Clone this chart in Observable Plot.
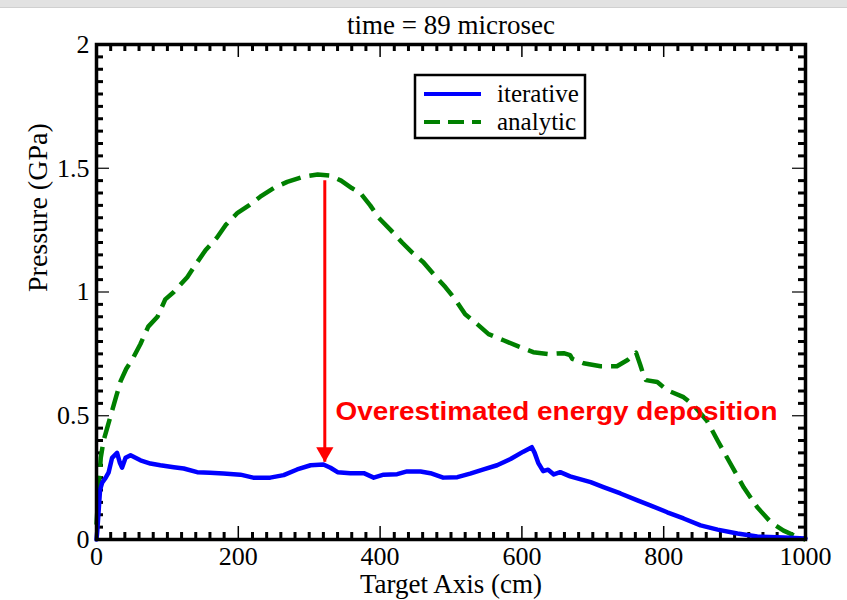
<!DOCTYPE html>
<html>
<head>
<meta charset="utf-8">
<script src="https://cdn.jsdelivr.net/npm/d3@7"></script>
<script src="https://cdn.jsdelivr.net/npm/@observablehq/plot@0.6"></script>
<style>
  body { margin: 0; background: #fff; }
  #wrap { position: relative; width: 847px; height: 600px; overflow: hidden; }
  #topbar { position: absolute; left: 0; top: 0; width: 847px; height: 7px; background: #e2e2e2; border-bottom: 1px solid #d0d0d0; }
  #chart { position: absolute; left: 0; top: 0; }
  #legend { position: absolute; left: 0; top: 0; }
</style>
</head>
<body>
<div id="wrap">
  <div id="topbar"></div>
  <div id="chart"></div>
  <svg id="legend" width="847" height="600" style="pointer-events:none"></svg>
</div>
<script>
// ---- data ----
const title = "time = 89 microsec";
const xLabel = "Target Axis (cm)";
const yLabel = "Pressure (GPa)";
const xTicks = [0, 200, 400, 600, 800, 1000];
const yTicks = [0, 0.5, 1, 1.5, 2];

const iterX = [0, 1, 5, 8, 13, 17, 22, 29, 33, 36, 41, 48, 55, 62, 76, 90, 109, 123, 142, 160, 179, 203, 221, 245, 264, 283, 302, 320, 330, 340, 358, 377, 391, 405, 424, 438, 457, 471, 489, 509, 527, 546, 565, 584, 602, 614, 618, 623, 630, 637, 645, 654, 668, 697, 715, 739, 763, 781, 805, 828, 852, 876, 904, 932, 969, 1000];
const iterY = [0, 0.03, 0.2, 0.23, 0.25, 0.27, 0.33, 0.35, 0.31, 0.29, 0.33, 0.34, 0.33, 0.32, 0.307, 0.30, 0.292, 0.287, 0.272, 0.27, 0.267, 0.262, 0.25, 0.25, 0.26, 0.283, 0.30, 0.303, 0.29, 0.272, 0.268, 0.268, 0.25, 0.262, 0.264, 0.275, 0.275, 0.268, 0.25, 0.252, 0.266, 0.283, 0.30, 0.325, 0.355, 0.373, 0.35, 0.31, 0.276, 0.282, 0.263, 0.272, 0.255, 0.232, 0.212, 0.186, 0.158, 0.138, 0.11, 0.085, 0.057, 0.04, 0.024, 0.012, 0.008, 0.004];

const anaX = [0, 3, 6, 10, 15, 22, 28, 34, 42, 51, 62, 73, 86, 97, 109, 128, 142, 154, 170, 182, 199, 215, 231, 250, 269, 292, 312, 330, 345, 360, 372, 386, 398, 415, 431, 445, 461, 476, 492, 506, 520, 537, 553, 574, 595, 616, 638, 659, 668, 671, 687, 711, 734, 749, 761, 767, 772, 775, 791, 805, 828, 842, 861, 876, 894, 913, 932, 951, 969, 989, 1000];
const anaY = [0.06, 0.2, 0.33, 0.4, 0.45, 0.52, 0.58, 0.64, 0.69, 0.73, 0.79, 0.86, 0.9, 0.97, 1.0, 1.06, 1.12, 1.17, 1.22, 1.27, 1.32, 1.35, 1.385, 1.42, 1.445, 1.466, 1.475, 1.47, 1.45, 1.42, 1.40, 1.35, 1.30, 1.25, 1.2, 1.16, 1.12, 1.07, 1.02, 0.97, 0.91, 0.87, 0.83, 0.805, 0.78, 0.757, 0.749, 0.753, 0.745, 0.73, 0.712, 0.70, 0.70, 0.725, 0.755, 0.705, 0.66, 0.644, 0.636, 0.603, 0.575, 0.543, 0.48, 0.40, 0.307, 0.21, 0.13, 0.07, 0.036, 0.01, 0.0];

const seriesNames = ["iterative", "analytic"];
const seriesColors = ["#0000ff", "#008000"];

const annotText = "Overestimated energy deposition";
const arrowX = 322, arrowTop = 1.45, arrowTip = 0.312;
const annotX = 337, annotY = 0.514;

// ---- build ----
const iterative = iterX.map((x, i) => ({x, y: iterY[i]}));
const analytic = anaX.map((x, i) => ({x, y: anaY[i]}));

const W = 847, H = 600, mL = 96, mR = 42, mT = 44, mB = 61;
const iW = W - mL - mR, iH = H - mT - mB;
const xMinor = d3.range(0, 1001, 20).filter(v => v % 200 !== 0);
const yMinor = d3.range(0, 41).map(i => i * 0.05).filter((v, i) => i % 10 !== 0);
const majLen = 13, minLen = 7;
const serif = "Liberation Serif";

const plot = Plot.plot({
  width: W, height: H,
  marginLeft: mL, marginRight: mR, marginTop: mT, marginBottom: mB,
  style: {fontFamily: serif, fontSize: "26px", background: "transparent", color: "#000", overflow: "visible"},
  x: {domain: [0, 1000]},
  y: {domain: [0, 2]},
  marks: [
    Plot.axisX({ticks: xTicks, tickSize: 0, tickPadding: 7, label: null, tickFormat: d => String(d), fontSize: 26}),
    Plot.axisY({ticks: yTicks, tickSize: 0, tickPadding: 7, label: null, tickFormat: d => String(d), fontSize: 26}),
    // minor ticks
    Plot.tickX(xMinor, {x: d => d, insetTop: iH - minLen, strokeWidth: 3, stroke: "#000"}),
    Plot.tickX(xMinor, {x: d => d, insetBottom: iH - minLen, strokeWidth: 3, stroke: "#000"}),
    Plot.tickY(yMinor, {y: d => d, insetRight: iW - minLen, strokeWidth: 3, stroke: "#000"}),
    Plot.tickY(yMinor, {y: d => d, insetLeft: iW - minLen, strokeWidth: 3, stroke: "#000"}),
    // major ticks
    Plot.tickX(xTicks, {x: d => d, insetTop: iH - majLen, strokeWidth: 1.5, stroke: "#000"}),
    Plot.tickX(xTicks, {x: d => d, insetBottom: iH - majLen, strokeWidth: 1.5, stroke: "#000"}),
    Plot.tickY(yTicks, {y: d => d, insetRight: iW - majLen, strokeWidth: 1.2, stroke: "#000"}),
    Plot.tickY(yTicks, {y: d => d, insetLeft: iW - majLen, strokeWidth: 1.2, stroke: "#000"}),
    // data
    Plot.line(analytic, {x: "x", y: "y", stroke: seriesColors[1], strokeWidth: 4.5, strokeDasharray: "20,9", strokeLinecap: "butt"}),
    Plot.line(iterative, {x: "x", y: "y", stroke: seriesColors[0], strokeWidth: 4.5}),
    // annotation
    Plot.ruleX([arrowX], {x: d => d, y1: arrowTop, y2: arrowTip, stroke: "#ff0000", strokeWidth: 3}),
    Plot.dot([arrowX], {x: d => d, y: arrowTip, dy: -10, symbol: "triangle", r: 6.4, rotate: 180, fill: "#ff0000", stroke: "none"}),
    Plot.text([annotText], {x: annotX, y: annotY, text: d => d, textAnchor: "start", fill: "#ff0000", fontFamily: "Liberation Sans", fontWeight: "bold", fontSize: 25}),
    // frame
    Plot.frame({stroke: "#000", strokeWidth: 3.5}),
    // titles
    Plot.text([title], {text: d => d, frameAnchor: "top", dy: -30, fontSize: 27}),
    Plot.text([xLabel], {text: d => d, frameAnchor: "bottom", dy: 53, fontSize: 27}),
    Plot.text([yLabel], {text: d => d, frameAnchor: "left", dx: -58, rotate: -90, fontSize: 28})
  ]
});
document.getElementById("chart").appendChild(plot);

// stretch the annotation horizontally to match the reference width
d3.select(plot).selectAll("text")
  .filter(function () { return this.textContent === annotText; })
  .attr("textLength", 442).attr("lengthAdjust", "spacingAndGlyphs");

// legend
const lg = d3.select("#legend");
const lx = 415, ly = 75, lw = 170, lh = 63;
lg.append("rect").attr("x", lx).attr("y", ly).attr("width", lw).attr("height", lh)
  .attr("fill", "#fff").attr("stroke", "#000").attr("stroke-width", 2.5);
seriesNames.forEach((name, i) => {
  const yy = ly + 19 + i * 28;
  lg.append("line").attr("x1", lx + 9).attr("x2", lx + 66).attr("y1", yy).attr("y2", yy)
    .attr("stroke", seriesColors[i]).attr("stroke-width", 4)
    .attr("stroke-dasharray", i === 1 ? "16,8" : null);
  lg.append("text").attr("x", lx + 82).attr("y", yy).attr("dy", "0.32em")
    .attr("font-family", serif).attr("font-size", 25).attr("fill", "#000").text(name);
});
</script>
</body>
</html>
